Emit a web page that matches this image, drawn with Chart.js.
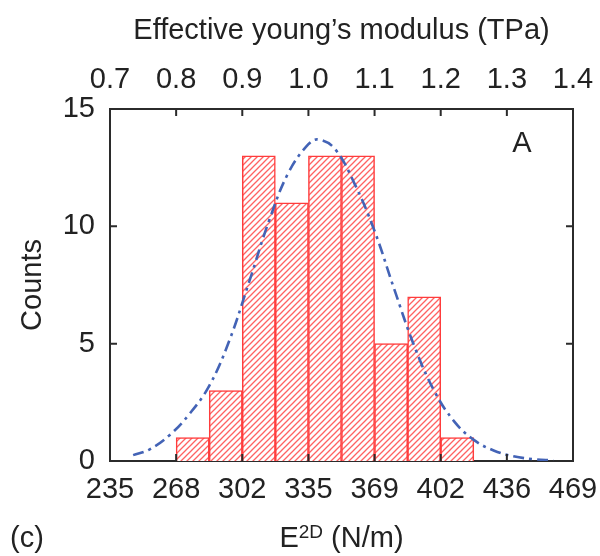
<!DOCTYPE html>
<html>
<head>
<meta charset="utf-8">
<script src="https://cdn.jsdelivr.net/npm/chart.js@4.4.0/dist/chart.umd.min.js"></script>
<style>html,body{margin:0;padding:0;background:#fff;}canvas{display:block;}</style>
</head>
<body>
<canvas id="c" width="600" height="556"></canvas>
<script>
// ---- data (x in TPa; bottom axis labels are the same positions in N/m) ----
const binCenters = [0.825, 0.875, 0.925, 0.975, 1.025, 1.075, 1.125, 1.175, 1.225];
const counts     = [1, 3, 13, 11, 13, 13, 5, 7, 1];

const fitX = [0.735, 0.76, 0.79, 0.82, 0.85, 0.88, 0.91, 0.94, 0.97, 1.00, 1.015, 1.04, 1.07, 1.10, 1.13, 1.16, 1.19, 1.22, 1.25, 1.28, 1.31, 1.34, 1.37];
const fitY = [0.25, 0.5, 1.1, 2.0, 3.2, 5.1, 7.6, 10.2, 12.3, 13.5, 13.7, 13.3, 11.8, 9.8, 7.3, 4.9, 3.0, 1.7, 0.9, 0.45, 0.2, 0.08, 0.03];

const xTickValues      = [0.7, 0.8, 0.9, 1.0, 1.1, 1.2, 1.3, 1.4];
const topTickLabels    = ['0.7', '0.8', '0.9', '1.0', '1.1', '1.2', '1.3', '1.4'];
const bottomTickLabels = ['235', '268', '302', '335', '369', '402', '436', '469'];
const yTickValues      = [0, 5, 10, 15];

// ---- styles ----
const FONT = '"Liberation Sans", Arial, Helvetica, sans-serif';
const FS = 29;
const TEXT = '#222';
const AXIS = '#2b2b2b';
const BAR_EDGE = '#ff3c3c';
const HATCH = 'rgba(255,70,70,0.85)';
const FIT = '#4363b6';

Chart.defaults.font.family = FONT;
Chart.defaults.color = TEXT;

function makeHatch(color, size, lw) {
  const c = document.createElement('canvas');
  c.width = size; c.height = size;
  const g = c.getContext('2d');
  g.fillStyle = '#fff';
  g.fillRect(0, 0, size, size);
  g.strokeStyle = color; g.lineWidth = lw;
  g.beginPath();
  g.moveTo(0, size); g.lineTo(size, 0);
  g.moveTo(-size / 2, size / 2); g.lineTo(size / 2, -size / 2);
  g.moveTo(size / 2, size * 1.5); g.lineTo(size * 1.5, size / 2);
  g.stroke();
  return g.createPattern(c, 'repeat');
}

const hatch = makeHatch(HATCH, 6, 1.3);

function setTicks(values) {
  return (scale) => { scale.ticks = values.map(v => ({ value: v })); };
}

const inwardTicks = {
  id: 'inwardTicks',
  afterDraw(chart) {
    const ctx = chart.ctx, a = chart.chartArea, L = 7, eps = 1e-9;
    const s = chart.scales;
    ctx.save();
    ctx.strokeStyle = AXIS; ctx.lineWidth = 2;
    ctx.beginPath();
    const inner = (sc, v) => v > sc.min + eps && v < sc.max - eps;
    s.x.ticks.forEach(t => { if (!inner(s.x, t.value)) return; const p = s.x.getPixelForValue(t.value); ctx.moveTo(p, a.bottom); ctx.lineTo(p, a.bottom - L); });
    s.x2.ticks.forEach(t => { if (!inner(s.x2, t.value)) return; const p = s.x2.getPixelForValue(t.value); ctx.moveTo(p, a.top); ctx.lineTo(p, a.top + L); });
    s.y.ticks.forEach(t => { if (!inner(s.y, t.value)) return; const p = s.y.getPixelForValue(t.value); ctx.moveTo(a.left, p); ctx.lineTo(a.left + L, p); });
    s.y2.ticks.forEach(t => { if (!inner(s.y2, t.value)) return; const p = s.y2.getPixelForValue(t.value); ctx.moveTo(a.right, p); ctx.lineTo(a.right - L, p); });
    ctx.stroke();
    ctx.restore();
  }
};

const extraText = {
  id: 'extraText',
  afterDraw(chart) {
    const ctx = chart.ctx, a = chart.chartArea, sx = chart.scales.x;
    const big = FS + 'px ' + FONT, small = '19px ' + FONT;
    const baseY = sx.bottom - 9;
    ctx.save();
    ctx.fillStyle = TEXT;
    ctx.textBaseline = 'alphabetic';
    ctx.textAlign = 'left';
    ctx.font = big;
    const wE = ctx.measureText('E').width;
    const wRest = ctx.measureText(' (N/m)').width;
    ctx.font = small;
    const wSup = ctx.measureText('2D').width;
    let x = (a.left + a.right) / 2 - (wE + wSup + wRest) / 2;
    ctx.font = big; ctx.fillText('E', x, baseY); x += wE;
    ctx.font = small; ctx.fillText('2D', x, baseY - 9); x += wSup;
    ctx.font = big; ctx.fillText(' (N/m)', x, baseY);
    ctx.fillText('(c)', 10, baseY);
    ctx.textAlign = 'center'; ctx.textBaseline = 'middle';
    ctx.fillText('A', a.right - 51, a.top + 35);
    ctx.restore();
  }
};

const axisCommon = {
  type: 'linear',
  z: 1,
  grid: { display: false, drawTicks: false },
  border: { display: true, color: AXIS, width: 2 },
};

function fixH(h) {
  return (s) => { s.height = h; s.paddingLeft = 0; s.paddingRight = 0; };
}

new Chart(document.getElementById('c'), {
  type: 'bar',
  data: {
    datasets: [
      {
        type: 'line',
        order: 0,
        data: fitX.map((x, i) => ({ x: x, y: fitY[i] })),
        borderColor: FIT,
        borderWidth: 2.6,
        borderDash: [11, 5, 3, 5],
        pointRadius: 0,
        tension: 0.4,
        fill: false,
        xAxisID: 'x', yAxisID: 'y'
      },
      {
        type: 'bar',
        order: 1,
        data: binCenters.map((x, i) => ({ x: x, y: counts[i] })),
        backgroundColor: hatch,
        borderColor: BAR_EDGE,
        borderWidth: 1.5,
        borderSkipped: 'start',
        barPercentage: 1,
        categoryPercentage: 1,
        xAxisID: 'x', yAxisID: 'y'
      }
    ]
  },
  options: {
    responsive: false,
    devicePixelRatio: 1,
    animation: false,
    layout: { padding: 0 },
    plugins: { legend: { display: false }, tooltip: { enabled: false } },
    scales: {
      x: Object.assign({}, axisCommon, {
        position: 'bottom', min: 0.7, max: 1.4, offset: false,
        afterBuildTicks: setTicks(xTickValues),
        afterFit: fixH(95),
        ticks: {
          padding: 14, maxRotation: 0, autoSkip: false,
          font: { size: FS, lineHeight: 1 }, color: TEXT,
          callback: (v, i) => bottomTickLabels[i]
        }
      }),
      x2: Object.assign({}, axisCommon, {
        position: 'top', min: 0.7, max: 1.4, offset: false,
        afterBuildTicks: setTicks(xTickValues),
        afterFit: fixH(109),
        ticks: {
          padding: 15, maxRotation: 0, autoSkip: false,
          font: { size: FS, lineHeight: 1 }, color: TEXT,
          callback: (v, i) => topTickLabels[i]
        },
        title: {
          display: true, text: 'Effective young\u2019s modulus (TPa)',
          font: { size: FS, lineHeight: 1 }, color: TEXT,
          padding: { top: 16, bottom: 0 }
        }
      }),
      y: Object.assign({}, axisCommon, {
        position: 'left', min: 0, max: 15,
        afterBuildTicks: setTicks(yTickValues),
        afterFit: (s) => { s.width = 110; s.paddingTop = 0; s.paddingBottom = 0; },
        ticks: {
          padding: 15, font: { size: FS, lineHeight: 1 }, color: TEXT,
          callback: (v) => String(v)
        },
        title: {
          display: true, text: 'Counts',
          font: { size: FS, lineHeight: 1 }, color: TEXT,
          padding: { top: 18, bottom: 0 }
        }
      }),
      y2: Object.assign({}, axisCommon, {
        position: 'right', min: 0, max: 15,
        afterBuildTicks: setTicks(yTickValues),
        afterFit: (s) => { s.width = 27; s.paddingTop = 0; s.paddingBottom = 0; },
        ticks: { display: false }
      })
    }
  },
  plugins: [inwardTicks, extraText]
});
</script>
</body>
</html>
